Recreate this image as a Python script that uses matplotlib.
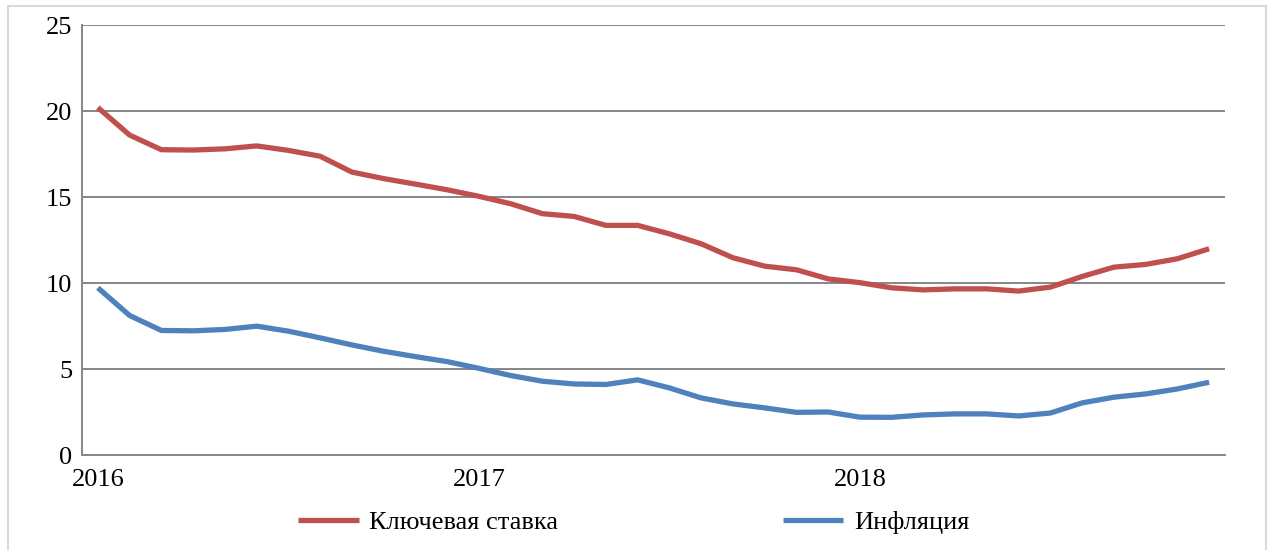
import matplotlib.pyplot as plt
from matplotlib.patches import Rectangle

# monthly values, Jan 2016 .. Dec 2018
key_rate = [20.2, 18.6, 17.75, 17.73, 17.8, 17.97, 17.71, 17.37, 16.45, 16.07, 15.75, 15.42,
            15.04, 14.61, 14.03, 13.87, 13.35, 13.35, 12.86, 12.28, 11.47, 10.98, 10.77, 10.24,
            10.02, 9.72, 9.6, 9.66, 9.66, 9.53, 9.76, 10.38, 10.92, 11.08, 11.41, 11.99]
inflation = [9.72, 8.11, 7.24, 7.22, 7.3, 7.49, 7.2, 6.81, 6.4, 6.03, 5.72, 5.43,
             5.04, 4.62, 4.29, 4.13, 4.1, 4.37, 3.9, 3.32, 2.97, 2.74, 2.48, 2.5,
             2.2, 2.19, 2.33, 2.39, 2.39, 2.27, 2.44, 3.03, 3.36, 3.55, 3.84, 4.23]
year_ticks = [0, 12, 24]
year_labels = ["2016", "2017", "2018"]
series_names = ["Ключевая ставка", "Инфляция"]

plt.rcParams['font.family'] = ['Liberation Serif', 'DejaVu Serif']

fig = plt.figure(figsize=(12.7, 5.5), dpi=100)
# light frame around the whole chart
fig.patches.append(Rectangle((8 / 1270, -0.01), 1258 / 1270, 1.0 - 6 / 550 + 0.01,
                             transform=fig.transFigure, fill=False,
                             edgecolor="#d9d9d9", linewidth=1.5))
ax = fig.add_axes([82 / 1270, 1 - 455 / 550, (1225 - 82) / 1270, (455 - 25) / 550])

x = list(range(len(key_rate)))
ax.plot(x, key_rate, color="#C0504D", linewidth=3.8, label=series_names[0],
        solid_capstyle="butt", zorder=3)
ax.plot(x, inflation, color="#4F81BD", linewidth=3.8, label=series_names[1],
        solid_capstyle="butt", zorder=3)

ax.set_xlim(-0.5, len(key_rate) - 0.5)
ax.set_ylim(0, 25)
ax.set_yticks([0, 5, 10, 15, 20, 25])
ax.set_xticks(year_ticks)
ax.set_xticklabels(year_labels)
ax.grid(axis="y", color="#868686", linewidth=1.4, zorder=1)
ax.set_axisbelow(True)

for side in ["top", "right"]:
    ax.spines[side].set_visible(False)
for side in ["left", "bottom"]:
    ax.spines[side].set_color("#868686")
    ax.spines[side].set_linewidth(1.4)
ax.tick_params(axis="both", length=0, labelsize=19)
ax.tick_params(axis="y", pad=7)
ax.tick_params(axis="x", pad=10)

ax.legend(loc="center", bbox_to_anchor=(0.499, 1 - 522 / 550), bbox_transform=fig.transFigure,
          ncol=2, frameon=False, fontsize=19, handlelength=2.3, handletextpad=0.4,
          columnspacing=8.5)

plt.savefig("out.png", dpi=100)
